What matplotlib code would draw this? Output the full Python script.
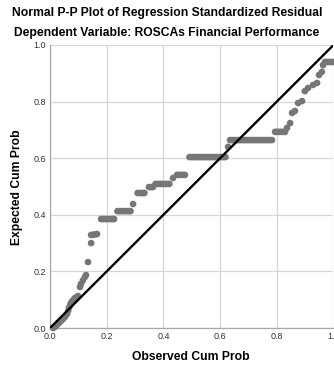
import matplotlib
matplotlib.use("Agg")
import matplotlib.pyplot as plt

title1 = "Normal P-P Plot of Regression Standardized Residual"
title2 = "Dependent Variable: ROSCAs Financial Performance"
xlabel = "Observed Cum Prob"
ylabel = "Expected Cum Prob"
ticks = [0.0, 0.2, 0.4, 0.6, 0.8, 1.0]
tick_labels = ["0.0", "0.2", "0.4", "0.6", "0.8", "1.0"]

observed = [
    0.011, 0.018, 0.025, 0.032, 0.039, 0.046, 0.053, 0.060, 0.064, 0.067,
    0.071, 0.074, 0.078, 0.085, 0.088, 0.095, 0.099, 0.106, 0.109, 0.116,
    0.123, 0.127, 0.134, 0.145,
    0.145, 0.152, 0.159, 0.166,
    0.180, 0.187, 0.194, 0.201, 0.208, 0.215, 0.222, 0.226,
    0.238, 0.245, 0.252, 0.259, 0.266, 0.273, 0.280, 0.284,
    0.293,
    0.309, 0.316, 0.323, 0.330, 0.333,
    0.349, 0.356, 0.363,
    0.372, 0.379, 0.386, 0.393, 0.400, 0.407, 0.414, 0.421,
    0.434,
    0.448, 0.455, 0.462, 0.469, 0.476,
    0.492, 0.499, 0.506, 0.513, 0.520, 0.527, 0.534, 0.541, 0.548, 0.555,
    0.562, 0.569, 0.576, 0.583, 0.590, 0.597, 0.604, 0.611, 0.619,
    0.628,
    0.635, 0.642, 0.649, 0.656, 0.663, 0.670, 0.677, 0.684, 0.691, 0.698,
    0.705, 0.712, 0.719, 0.726, 0.733, 0.740, 0.747, 0.754, 0.761, 0.768,
    0.775, 0.783,
    0.794, 0.801, 0.808, 0.815, 0.822, 0.829,
    0.836, 0.847, 0.854, 0.864, 0.875, 0.889, 0.899, 0.910, 0.928, 0.942,
    0.949, 0.959, 0.963,
    0.970, 0.977, 0.984, 0.991, 0.998,
]
expected = [
    0.000, 0.004, 0.011, 0.018, 0.025, 0.032, 0.039, 0.049, 0.060, 0.071,
    0.081, 0.088, 0.095, 0.102, 0.106, 0.110, 0.113, 0.145, 0.155, 0.168,
    0.180, 0.187, 0.233, 0.300,
    0.329, 0.329, 0.331, 0.332,
    0.385, 0.385, 0.385, 0.385, 0.385, 0.385, 0.385, 0.385,
    0.413, 0.413, 0.413, 0.413, 0.413, 0.413, 0.413, 0.413,
    0.438,
    0.477, 0.477, 0.477, 0.477, 0.477,
    0.498, 0.498, 0.498,
    0.509, 0.509, 0.509, 0.509, 0.509, 0.509, 0.509, 0.509,
    0.530,
    0.541, 0.541, 0.541, 0.541, 0.541,
    0.604, 0.604, 0.604, 0.604, 0.604, 0.604, 0.604, 0.604, 0.604, 0.604,
    0.604, 0.604, 0.604, 0.604, 0.604, 0.604, 0.604, 0.604, 0.604,
    0.640,
    0.664, 0.664, 0.664, 0.664, 0.664, 0.664, 0.664, 0.664, 0.664, 0.664,
    0.664, 0.664, 0.664, 0.664, 0.664, 0.664, 0.664, 0.664, 0.664, 0.664,
    0.664, 0.664,
    0.693, 0.693, 0.693, 0.693, 0.693, 0.693,
    0.707, 0.724, 0.760, 0.767, 0.795, 0.802, 0.837, 0.848, 0.859, 0.866,
    0.894, 0.905, 0.929,
    0.940, 0.940, 0.940, 0.940, 0.940,
]

fig = plt.figure(figsize=(3.34, 3.67), dpi=100)
ax = fig.add_axes([50 / 334, 1 - 328 / 367, 283.5 / 334, 283 / 367])
ax.set_xlim(0, 1)
ax.set_ylim(0, 1)

ax.grid(True, color="#d6d6d6", linewidth=0.9)
ax.set_axisbelow(True)
for side in ["top", "right"]:
    ax.spines[side].set_visible(False)
for side in ["left", "bottom"]:
    ax.spines[side].set_color("#a8a8a8")
    ax.spines[side].set_linewidth(0.9)

ax.scatter(observed, expected, s=23, color="#767676", edgecolors="none",
           zorder=3, clip_on=False)
ax.plot([0, 1], [0, 1], color="black", linewidth=1.7, zorder=4)

ax.set_xticks(ticks)
ax.set_xticklabels(tick_labels)
ax.set_yticks(ticks)
ax.set_yticklabels(tick_labels)
ax.tick_params(length=0, labelsize=6.5, labelcolor="#333333", pad=3)
for lbl in ax.get_xticklabels() + ax.get_yticklabels():
    lbl.set_fontfamily("Liberation Sans")

fs = 8.7
fig.text(0.5, 1 - 13 / 367, title1, ha="center", va="center",
         fontsize=fs, fontweight="bold", family="Liberation Sans")
fig.text(0.5, 1 - 33 / 367, title2, ha="center", va="center",
         fontsize=fs, fontweight="bold", family="Liberation Sans")
fig.text(191 / 334, 1 - 357 / 367, xlabel, ha="center", va="center",
         fontsize=fs, fontweight="bold", family="Liberation Sans")
fig.text(17 / 334, 1 - 187 / 367, ylabel, ha="center", va="center",
         rotation=90, fontsize=fs, fontweight="bold", family="Liberation Sans")

fig.savefig("out.png", dpi=100)
